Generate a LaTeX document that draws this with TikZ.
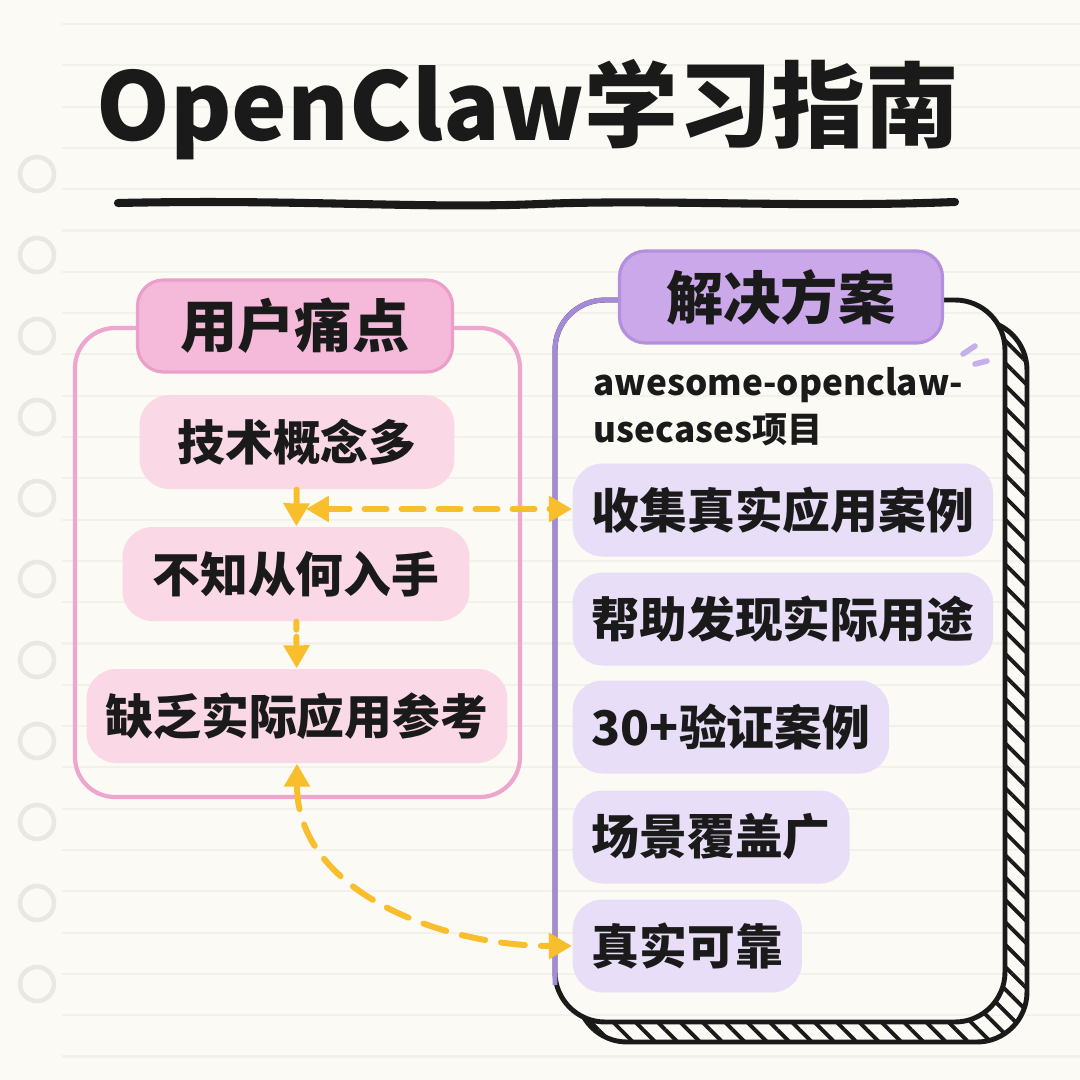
\documentclass[tikz,border=0pt]{standalone}
\usepackage{fontspec}
\setmainfont{Noto Sans CJK SC}
\usetikzlibrary{arrows.meta,patterns.meta}

\definecolor{paper}{HTML}{FBFAF4}
\definecolor{rule}{HTML}{F2F1EA}
\definecolor{hole}{HTML}{E9E8E3}
\definecolor{pinkline}{HTML}{EDA6CD}
\definecolor{pinkhead}{HTML}{F5B9DA}
\definecolor{pinkheadline}{HTML}{EC9ECA}
\definecolor{pinkitem}{HTML}{FAD8E5}
\definecolor{purphead}{HTML}{CAA8EA}
\definecolor{purpheadline}{HTML}{B48FDD}
\definecolor{purpitem}{HTML}{E8DEF7}
\definecolor{purpline}{HTML}{A48AD8}
\definecolor{purpmark}{HTML}{C7AFEE}
\definecolor{arrowyellow}{HTML}{F8BE2C}
\definecolor{ink}{HTML}{1A1A1A}

\tikzset{
  header/.style={rounded corners=2.6mm, line width=0.9pt, minimum height=9.2mm,
    minimum width=31.5mm, text=ink, font=\fontsize{16.3}{18}\selectfont\bfseries},
  painitem/.style={fill=pinkitem, rounded corners=3mm, minimum height=9.4mm,
    text=ink, font=\fontsize{13.6}{16}\selectfont\bfseries},
  solitem/.style={fill=purpitem, rounded corners=3mm, minimum height=9.3mm,
    inner xsep=1.9mm, anchor=west, text=ink, font=\fontsize{13.6}{16}\selectfont\bfseries},
  flow/.style={draw=arrowyellow, line width=1.7pt, line cap=round}
}

\begin{document}
\begin{tikzpicture}[x=0.1mm, y=0.1mm, >={Triangle[length=2.3mm,width=2.5mm]}]
  % paper
  \fill[paper] (0,0) rectangle (1080,1080);
  \useasboundingbox (0,0) rectangle (1080,1080);
  \foreach \k in {0,...,25}
    \draw[rule, line width=0.6pt] (62,{1056-41.3*\k}) -- (1080,{1056-41.3*\k});
  \foreach \k in {0,...,10}
    \draw[hole, line width=1.3pt] (37,{906-81*\k}) circle (1.7mm);

  % title
  \node[text=ink, font=\fontsize{26.7}{30}\selectfont\bfseries] (title) at (528,970) {OpenClaw学习指南};
  \draw[ink, line width=2.3pt, line cap=round] (118,877) .. controls (300,881) and (420,871) .. (540,876)
    .. controls (660,881) and (800,872) .. (955,878);

  % pain points
  \draw[pinkline, line width=1.2pt, rounded corners=4mm] (75,283) rectangle (520,752);
  \node[header, fill=pinkhead, draw=pinkheadline] (pain) at (295,754) {用户痛点};
  \node[painitem, minimum width=31.5mm] (tech) at (297,638) {技术概念多};
  \node[painitem, minimum width=34.7mm] (start) at (296,506) {不知从何入手};
  \node[painitem, minimum width=42.1mm] (lack) at (297,364) {缺乏实际应用参考};

  % solution
  \draw[ink, line width=1.4pt, rounded corners=5mm, pattern color=ink,
    pattern={Lines[angle=-45,distance=4.5pt,line width=1.1pt]}] (577,38) rectangle (1027,760);
  \fill[paper, rounded corners=5mm] (555,58) rectangle (1005,780);
  \begin{scope}
    \clip[rounded corners=5mm] (555,58) rectangle (1005,780);
    \foreach \k in {0,...,25}
      \draw[rule, line width=0.6pt] (555,{1056-41.3*\k}) -- (1005,{1056-41.3*\k});
  \end{scope}
  \draw[ink, line width=1.4pt, rounded corners=5mm] (555,58) rectangle (1005,780);
  \draw[purpline, line width=1.4pt, rounded corners=5mm] (640,780) -- (555,780) -- (555,95);
  \node[header, fill=purphead, draw=purpheadline, minimum width=32.3mm] (sol) at (781,783) {解决方案};
  \draw[purpmark, line width=1.6pt, line cap=round] (963,726) -- (975,734);
  \draw[purpmark, line width=1.6pt, line cap=round] (975,716) -- (987,719);

  \node[anchor=west, align=left, inner sep=0pt, text=ink,
    font=\fontsize{10}{13.4}\selectfont\bfseries] (repo) at (593,673) {awesome-openclaw-\\usecases项目};
  \node[solitem] (collect) at (572,570) {收集真实应用案例};
  \node[solitem] (help) at (572,461) {帮助发现实际用途};
  \node[solitem] (thirty) at (572,353) {30+验证案例};
  \node[solitem] (scene) at (572,243) {场景覆盖广};
  \node[solitem] (real) at (572,134) {真实可靠};

  % links
  \coordinate (meet) at (306,571);
  \draw[flow, ->] (tech) -- (start);
  \draw[flow, <->, dash pattern=on 2.2mm off 1.5mm] (meet) -- (meet -| collect.west);
  \draw[flow, ->, dash pattern=on 0.8mm off 0.7mm] (start) -- (lack);
  \draw[flow, <->, dash pattern=on 2.4mm off 1.6mm] (lack) to[out=-90, in=180] (real);
\end{tikzpicture}
\end{document}
